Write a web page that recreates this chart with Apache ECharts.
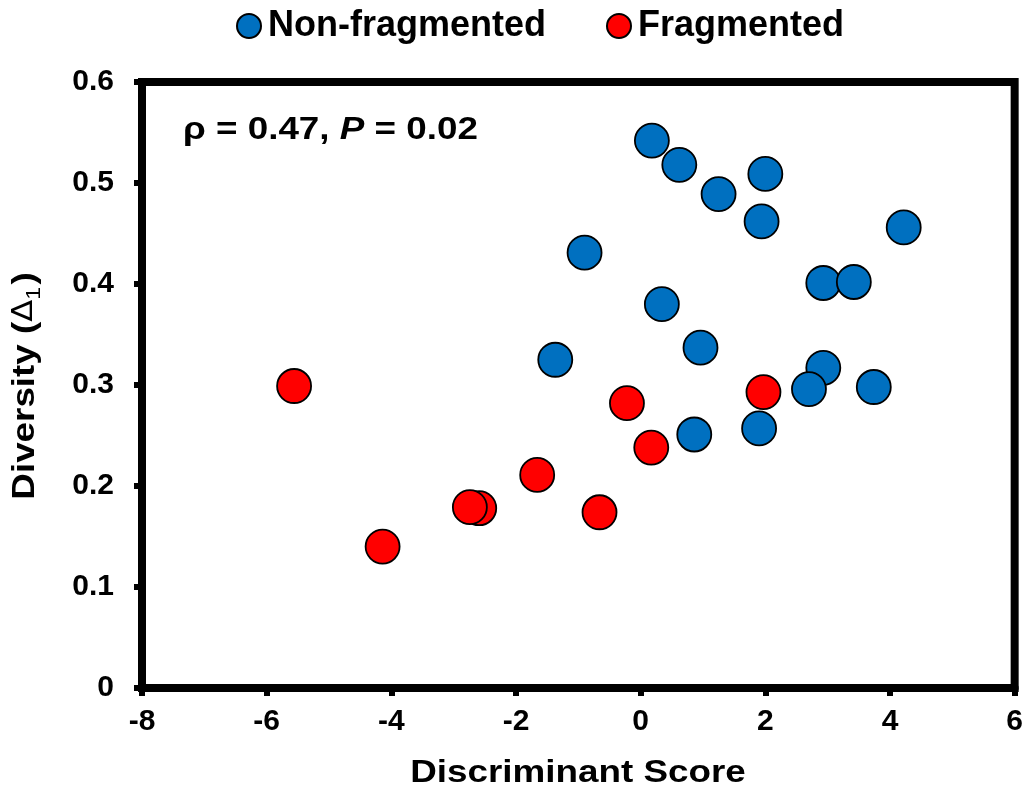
<!DOCTYPE html>
<html>
<head>
<meta charset="utf-8">
<title>Diversity vs Discriminant Score</title>
<script src="https://cdn.jsdelivr.net/npm/echarts@6/dist/echarts.min.js"></script>
<style>
  html, body { margin: 0; padding: 0; background: #fff; }
  #chart { width: 1026px; height: 796px; }
</style>
</head>
<body>
<div id="chart"></div>
<script>
// values
const nonFragX = [0.18, 0.62, 1.25, 2.00, 1.94, 4.22, -0.90, 2.93, 3.42, 0.34, 0.96, -1.37, 2.93, 2.70, 3.74, 0.86, 1.90];
const nonFragY = [0.542, 0.518, 0.489, 0.509, 0.462, 0.456, 0.431, 0.401, 0.402, 0.380, 0.337, 0.325, 0.317, 0.296, 0.298, 0.251, 0.257];
const fragX = [-5.56, -0.22, 1.97, 0.17, -1.66, -2.59, -2.74, -0.66, -4.14];
const fragY = [0.299, 0.282, 0.293, 0.238, 0.211, 0.178, 0.179, 0.174, 0.140];

const xTicks = [-8, -6, -4, -2, 0, 2, 4, 6];
const yTicks = [0, 0.1, 0.2, 0.3, 0.4, 0.5, 0.6];

const FONT = 'Liberation Sans, Arial, sans-serif';
// the source figure's text is a bit wider than Arial, so stretch it
const STRETCH = 1.15;

function pairs(xs, ys) {
    return xs.map(function (x, i) { return [x, ys[i]]; });
}

const chart = echarts.init(document.getElementById('chart'));

chart.setOption({
    animation: false,
    backgroundColor: '#fff',
    textStyle: { fontFamily: FONT },
    legend: {
        top: 8,
        left: 236,
        padding: 0,
        itemWidth: 24,
        itemHeight: 24,
        itemGap: 60,
        icon: 'circle',
        textStyle: { fontFamily: FONT, fontSize: 36, fontWeight: 'bold', color: '#000', padding: [0, 0, 0, 2] },
        data: ['Non-fragmented', 'Fragmented']
    },
    grid: {
        left: 142, right: 9, top: 82, bottom: 108,
        show: true, borderColor: '#000', borderWidth: 8
    },
    xAxis: {
        type: 'value',
        min: xTicks[0],
        max: xTicks[xTicks.length - 1],
        interval: 2,
        axisLine: { onZero: false, lineStyle: { color: '#000', width: 8 } },
        axisTick: { inside: false, length: 8, lineStyle: { color: '#000', width: 6 } },
        axisLabel: { margin: 19, fontFamily: FONT, fontSize: 30, fontWeight: 'bold', color: '#000' },
        splitLine: { show: false }
    },
    yAxis: {
        type: 'value',
        min: yTicks[0],
        max: yTicks[yTicks.length - 1],
        interval: 0.1,
        axisLine: { onZero: false, lineStyle: { color: '#000', width: 8 } },
        axisTick: { inside: false, length: 8, lineStyle: { color: '#000', width: 6 } },
        axisLabel: {
            margin: 28, fontFamily: FONT, fontSize: 30, fontWeight: 'bold', color: '#000',
            formatter: function (v) { return v === 0 ? '0' : v.toFixed(1); }
        },
        splitLine: { show: false }
    },
    graphic: [{
        // x axis title
        type: 'text',
        x: 578,
        y: 773,
        scaleX: STRETCH,
        style: {
            text: 'Discriminant Score',
            fontFamily: FONT, fontSize: 32, fontWeight: 'bold', fill: '#000',
            textAlign: 'center', textVerticalAlign: 'middle'
        }
    }, {
        // y axis title
        type: 'text',
        x: 25,
        y: 386,
        rotation: Math.PI / 2,
        scaleX: STRETCH,
        style: {
            text: '{a|Diversity (}{d|Δ}{s|1}{a|)}',
            textAlign: 'center', textVerticalAlign: 'middle',
            rich: {
                a: { fontFamily: FONT, fontSize: 32, fontWeight: 'bold', fill: '#000', lineHeight: 38, verticalAlign: 'middle' },
                d: { fontFamily: 'DejaVu Sans, sans-serif', fontSize: 28, fontWeight: 'normal', fill: '#000', lineHeight: 38, verticalAlign: 'middle' },
                s: { fontFamily: FONT, fontSize: 20, fontWeight: 'normal', fill: '#000', lineHeight: 38, verticalAlign: 'bottom', padding: [0, 2, 0, 0] }
            }
        }
    }, {
        // correlation note
        type: 'text',
        x: 183,
        y: 114,
        scaleX: STRETCH,
        style: {
            text: '{n|ρ = 0.47, }{i|P}{n| = 0.02}',
            rich: {
                n: { fontFamily: FONT, fontSize: 32, fontWeight: 'bold', fill: '#000' },
                i: { fontFamily: FONT, fontSize: 32, fontWeight: 'bold', fontStyle: 'italic', fill: '#000' }
            }
        }
    }],
    series: [{
        name: 'Non-fragmented',
        type: 'scatter',
        symbol: 'circle',
        symbolSize: 34,
        data: pairs(nonFragX, nonFragY),
        itemStyle: { color: '#0070C0', borderColor: '#000', borderWidth: 1.8, opacity: 1 }
    }, {
        name: 'Fragmented',
        type: 'scatter',
        symbol: 'circle',
        symbolSize: 34,
        data: pairs(fragX, fragY),
        itemStyle: { color: '#FF0000', borderColor: '#000', borderWidth: 1.8, opacity: 1 }
    }]
});
</script>
</body>
</html>
